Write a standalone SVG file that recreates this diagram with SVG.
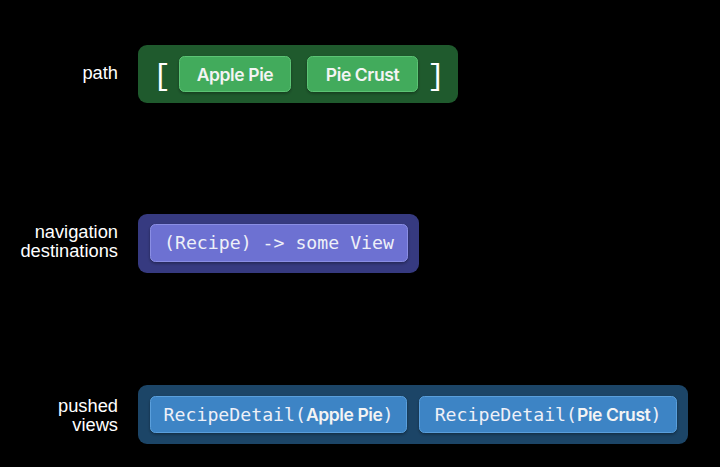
<svg xmlns="http://www.w3.org/2000/svg" width="720" height="467" viewBox="0 0 720 467">
<style>
.lbl{font-family:"Liberation Sans",Arial,sans-serif;font-size:18.3px;fill:#ffffff;text-anchor:end}
.sans{font-family:Inter,"Liberation Sans",Arial,sans-serif;font-size:17.5px;font-weight:600;letter-spacing:-0.4px;fill:#f4f4f4}
.mono{font-family:"DejaVu Sans Mono","Liberation Mono",monospace;font-size:18.2px;fill:#eef0f8}
.br{font-family:"Liberation Mono","DejaVu Sans Mono",monospace;font-size:30px;fill:#ffffff}
.gOut{fill:#1f5a2d}
.gIn{fill:#43ab5c;stroke:#5cc474;stroke-width:1}
.pOut{fill:#363a80}
.pIn{fill:#6d71d2;stroke:#8a8ee4;stroke-width:1}
.bOut{fill:#1c4567}
.bIn{fill:#3c84c5;stroke:#5a9fdc;stroke-width:1}
</style>
<defs>
<filter id="sh" x="-10%" y="-20%" width="120%" height="150%">
<feDropShadow dx="0" dy="1.5" stdDeviation="1.5" flood-color="#000" flood-opacity="0.35"/>
</filter>
</defs>
<rect x="0" y="0" width="720" height="467" fill="#000"/>
<g id="labels">
<text class="lbl" x="118" y="79">path</text>
<text class="lbl" x="118" y="238">navigation</text>
<text class="lbl" x="118" y="257">destinations</text>
<text class="lbl" x="118" y="412">pushed</text>
<text class="lbl" x="118" y="431">views</text>
</g>
<g id="path">
<rect class="gOut" x="138" y="45" width="320" height="58" rx="9"/>
<text class="br" x="153" y="85">[</text>
<text class="br" x="427" y="85">]</text>
<g id="path-apple">
<rect class="gIn" x="179.5" y="56.5" width="111" height="35" rx="5" filter="url(#sh)"/>
<text class="sans" x="235" y="80.5" text-anchor="middle">Apple Pie</text>
</g>
<g id="path-crust">
<rect class="gIn" x="307.5" y="56.5" width="110" height="35" rx="5" filter="url(#sh)"/>
<text class="sans" x="362.5" y="80.5" text-anchor="middle">Pie Crust</text>
</g>
</g>
<g id="destinations">
<rect class="pOut" x="138" y="214" width="281" height="59" rx="9"/>
<g id="dest-view">
<rect class="pIn" x="150.5" y="224.5" width="257" height="37" rx="5" filter="url(#sh)"/>
<text class="mono" x="279" y="249" text-anchor="middle">(Recipe) -&gt; some View</text>
</g>
</g>
<g id="pushed">
<rect class="bOut" x="138" y="385" width="550" height="59" rx="9"/>
<g id="pushed-apple">
<rect class="bIn" x="150.5" y="396.5" width="256" height="36" rx="5" filter="url(#sh)"/>
<text x="278.5" y="421" text-anchor="middle"><tspan class="mono">RecipeDetail(</tspan><tspan class="sans">Apple Pie</tspan><tspan class="mono">)</tspan></text>
</g>
<g id="pushed-crust">
<rect class="bIn" x="419.5" y="396.5" width="257" height="36" rx="5" filter="url(#sh)"/>
<text x="548" y="421" text-anchor="middle"><tspan class="mono">RecipeDetail(</tspan><tspan class="sans">Pie Crust</tspan><tspan class="mono">)</tspan></text>
</g>
</g>
<g id="connectors"/>
</svg>
